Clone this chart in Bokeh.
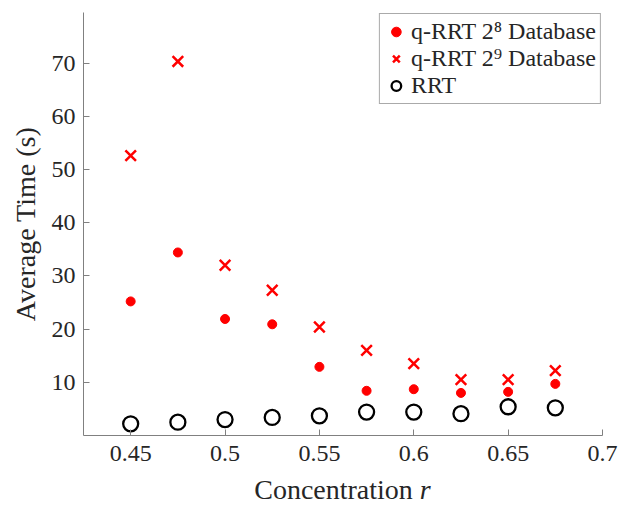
from bokeh.plotting import figure
from bokeh.models import Range1d, FixedTicker, Legend, LegendItem, Div
from bokeh.layouts import column
from bokeh.embed import file_html
from bokeh.resources import INLINE

conc = [0.45, 0.475, 0.5, 0.525, 0.55, 0.575, 0.6, 0.625, 0.65, 0.675]
qrrt_2_8 = [25.2, 34.4, 21.9, 20.9, 12.9, 8.4, 8.7, 8.0, 8.2, 9.7]
qrrt_2_9 = [52.6, 70.3, 32.0, 27.3, 20.4, 16.0, 13.5, 10.5, 10.5, 12.2]
rrt = [2.2, 2.5, 3.0, 3.4, 3.7, 4.4, 4.4, 4.1, 5.4, 5.2]
x_ticks = [0.45, 0.5, 0.55, 0.6, 0.65, 0.7]
y_ticks = [10, 20, 30, 40, 50, 60, 70]

FONT = "Liberation Serif"
TXT = "#262626"

p = figure(width=624, height=474, output_backend="svg", toolbar_location=None,
           x_range=Range1d(0.425, 0.7), y_range=Range1d(0, 79.5),
           min_border_left=83, min_border_right=22, min_border_top=12, min_border_bottom=39)
p.outline_line_color = None
p.grid.visible = False
p.background_fill_color = "white"

for ax in (p.xaxis[0], p.yaxis[0]):
    ax.axis_line_color = "#808080"
    ax.major_tick_line_color = "#808080"
    ax.major_tick_in = 6
    ax.major_tick_out = 0
    ax.minor_tick_line_color = None
    ax.major_label_text_font = FONT
    ax.major_label_text_font_size = "24px"
    ax.major_label_text_color = TXT
    ax.axis_label_text_font = FONT
    ax.axis_label_text_font_size = "28px"
    ax.axis_label_text_font_style = "normal"
    ax.axis_label_text_color = TXT

p.xaxis.ticker = FixedTicker(ticks=x_ticks)
p.yaxis.ticker = FixedTicker(ticks=y_ticks)
p.xaxis.major_label_overrides = {0.5: "0.5", 0.6: "0.6", 0.7: "0.7"}
p.xaxis.major_label_standoff = 10
p.yaxis.major_label_standoff = 8
p.yaxis.axis_label = "Average Time (s)"
p.yaxis.axis_label_standoff = 8

r1 = p.scatter(conc, qrrt_2_8, marker="circle", size=9, fill_color="red", line_color="red")
r2 = p.scatter(conc, qrrt_2_9, marker="x", size=15, line_color="red", line_width=2.5)
r3 = p.scatter(conc, rrt, marker="circle", size=15, fill_color=None, line_color="black", line_width=2.3)

legend = Legend(items=[
    LegendItem(label="q-RRT 2⁸ Database", renderers=[r1]),
    LegendItem(label="q-RRT 2⁹ Database", renderers=[r2]),
    LegendItem(label="RRT", renderers=[r3]),
], location="top_right")
legend.label_text_font = FONT
legend.label_text_font_size = "24px"
legend.label_text_color = TXT
legend.border_line_color = "#555555"
legend.border_line_width = 1
legend.margin = 1
legend.padding = 4
legend.spacing = 0
legend.glyph_width = 24
legend.label_standoff = 3
legend.label_height = 25
legend.glyph_height = 25
p.add_layout(legend)

xlabel = Div(
    text=('<div style="width:519px;margin-left:83px;margin-top:0px;text-align:center;'
          'font-family:\'Liberation Serif\';font-size:28px;line-height:31px;color:#262626;'
          'white-space:nowrap;">Concentration <i>r</i></div>'),
    width=624, height=31, margin=0,
)

layout = column(p, xlabel, spacing=0)
open("out.html", "w").write(file_html(layout, INLINE))
